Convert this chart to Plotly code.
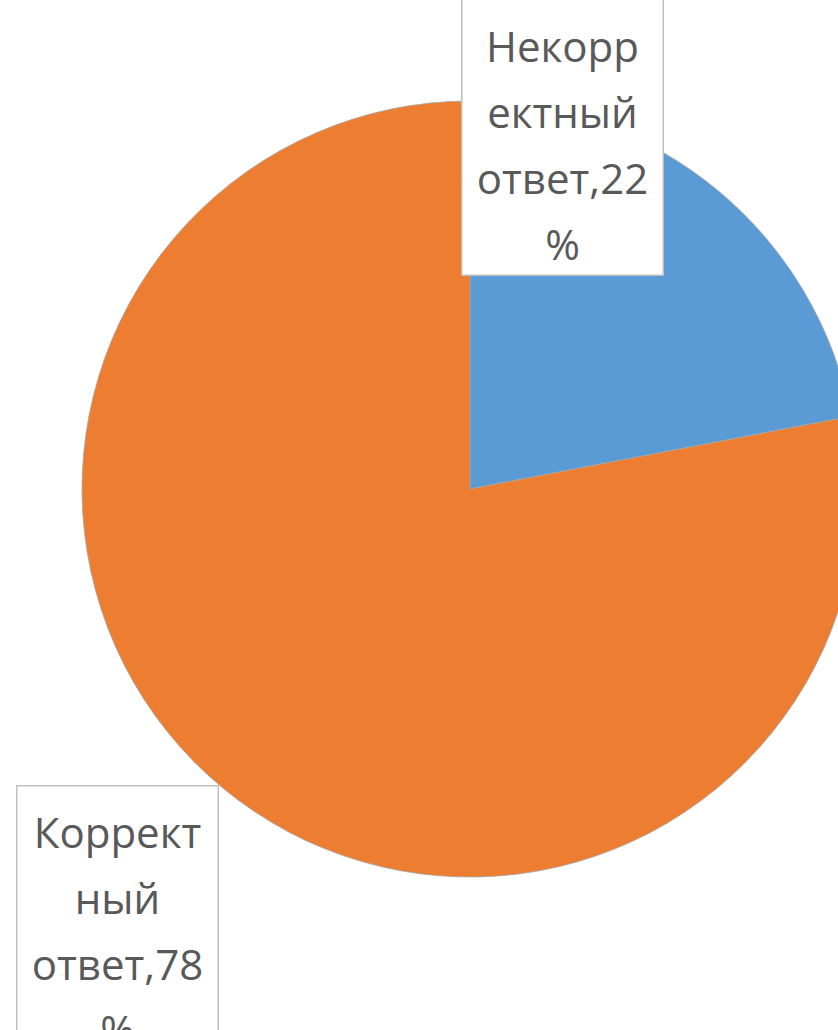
import plotly.graph_objects as go

labels = ["Некорректный ответ", "Корректный ответ"]
values = [22, 78]
colors = ["#5B9BD5", "#ED7D31"]
label_lines = [
    ["Некорр", "ектный", "ответ,22", "%"],
    ["Коррект", "ный", "ответ,78", "%"],
]

W, H = 900, 1030
cx, cy, r = 470, 489, 388

fig = go.Figure()
fig.add_trace(go.Pie(
    labels=labels,
    values=values,
    sort=False,
    direction="clockwise",
    rotation=0,
    marker=dict(colors=colors, line=dict(color="#a6a6a6", width=0.8)),
    textinfo="none",
    hoverinfo="label+percent",
    showlegend=False,
    domain=dict(x=[(cx - r) / W, (cx + r) / W], y=[1 - (cy + r) / H, 1 - (cy - r) / H]),
))

def box_text(lines):
    return "<br>".join(f'<span style="font-size:42px">{t}</span>' for t in lines)

ann_common = dict(
    xref="paper", yref="paper", showarrow=False,
    font=dict(family="Open Sans", size=51, color="#595959"),
    bgcolor="#ffffff", bordercolor="#bfbfbf", borderwidth=1.5, borderpad=2,
    width=196, align="center",
)
fig.add_annotation(text=box_text(label_lines[0]), x=562 / W, y=1 - 276 / H,
                   xanchor="center", yanchor="bottom", height=292, valign="bottom",
                   **ann_common)
fig.add_annotation(text=box_text(label_lines[1]), x=117.5 / W, y=1 - 785 / H,
                   xanchor="center", yanchor="top", height=270, valign="bottom",
                   **ann_common)

fig.update_layout(
    width=W, height=H, autosize=False,
    margin=dict(l=0, r=0, t=0, b=0),
    paper_bgcolor="#ffffff", plot_bgcolor="#ffffff",
)

fig.write_html("out.html", post_script="document.body.style.margin='0';document.documentElement.style.overflow='hidden';document.body.style.overflow='hidden';")
